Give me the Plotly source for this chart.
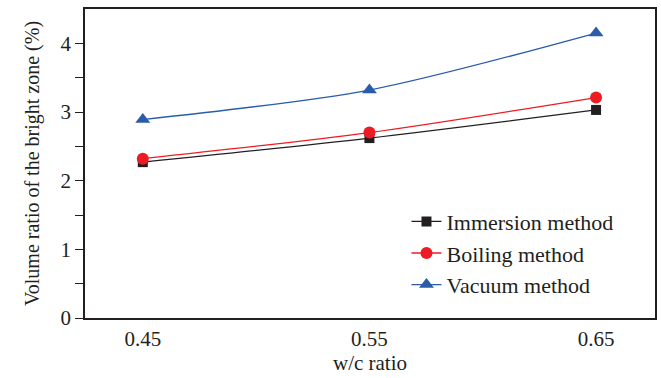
import plotly.graph_objects as go

wc_ratio = [0.45, 0.55, 0.65]
x_tick_labels = ["0.45", "0.55", "0.65"]
immersion = [2.27, 2.62, 3.03]
boiling = [2.32, 2.70, 3.21]
vacuum = [2.89, 3.32, 4.15]

series = [
    ("Immersion method", immersion, "#231f20", "square", 10),
    ("Boiling method", boiling, "#ed1c24", "circle", 12),
    ("Vacuum method", vacuum, "#2a5caa", "triangle-up", 13),
]

fig = go.Figure()
for name, vals, color, sym, size in series:
    fig.add_trace(go.Scatter(
        x=wc_ratio, y=vals, name=name, mode="lines+markers",
        line=dict(color=color, width=1.3, shape="spline", smoothing=0.8),
        marker=dict(symbol=sym, size=size, color=color),
    ))

font = "Liberation Serif, Times New Roman, serif"
fig.update_layout(
    width=661, height=378,
    margin=dict(l=85, r=4, t=9, b=60),
    paper_bgcolor="white", plot_bgcolor="white",
    font=dict(family=font, size=21, color="#231f20"),
    showlegend=True,
    legend=dict(x=0.564, y=0.38, xanchor="left", yanchor="top",
                bgcolor="rgba(0,0,0,0)", font=dict(size=22),
                itemwidth=30, tracegroupgap=0),
    xaxis=dict(
        range=[0.4245, 0.676], tickvals=wc_ratio, ticktext=x_tick_labels,
        showgrid=False, zeroline=False, showline=True, linecolor="#231f20",
        linewidth=1.5, mirror=True, ticks="", ticklabelstandoff=1,
        title=dict(text="w/c ratio", font=dict(size=21), standoff=2),
    ),
    yaxis=dict(
        range=[0, 4.5], tickvals=[0, 1, 2, 3, 4],
        showgrid=False, zeroline=False, showline=True, linecolor="#231f20",
        linewidth=1.5, mirror=True, ticks="outside", ticklen=8,
        tickcolor="#231f20", tickwidth=1.2,
        minor=dict(tickvals=[0.5, 1.5, 2.5, 3.5], ticks="outside", ticklen=8,
                   tickcolor="#231f20", tickwidth=1.2),
        title=dict(text="Volume ratio of the bright zone (%)", font=dict(size=20), standoff=16),
    ),
)
fig.write_html("out.html", config={"displayModeBar": False},
               post_script="document.body.style.margin='0';")
